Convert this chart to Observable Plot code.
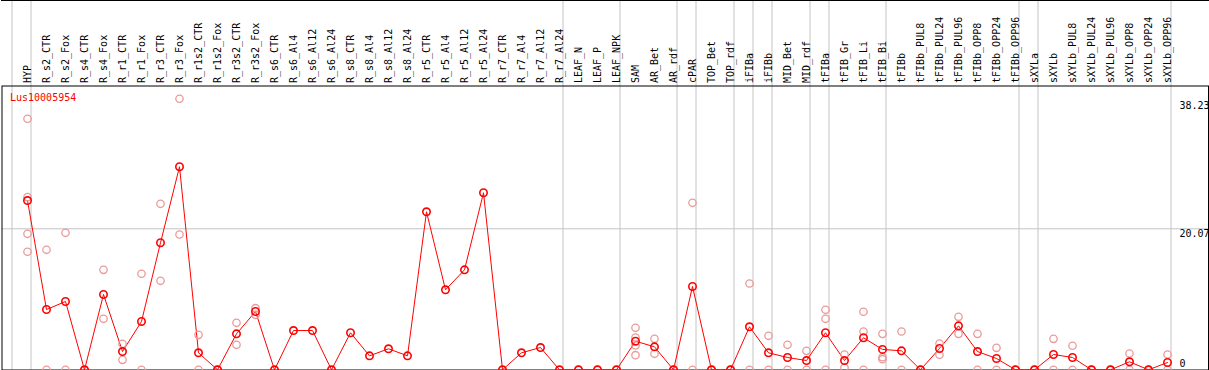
<!DOCTYPE html>
<html>
<head>
<meta charset="utf-8">
<script src="https://cdn.jsdelivr.net/npm/d3@7"></script>
<script src="https://cdn.jsdelivr.net/npm/@observablehq/plot@0.6"></script>
<style>
  body { margin: 0; background: #fff; }
  #chart { position: relative; width: 1209px; height: 370px; }
  #chart svg { display: block; }
  #topline { position: absolute; left: 1px; top: 0; width: 1208px; height: 1px; background: #000; }
</style>
</head>
<body>
<div id="chart"><div id="topline"></div></div>
<script>
const geneId = "Lus10005954";

const samples = [
  "HYP",
  "R_s2_CTR","R_s2_Fox","R_s4_CTR","R_s4_Fox","R_r1_CTR","R_r1_Fox","R_r3_CTR","R_r3_Fox",
  "R_r1s2_CTR","R_r1s2_Fox","R_r3s2_CTR","R_r3s2_Fox",
  "R_s6_CTR","R_s6_Al4","R_s6_Al12","R_s6_Al24","R_s8_CTR","R_s8_Al4","R_s8_Al12","R_s8_Al24",
  "R_r5_CTR","R_r5_Al4","R_r5_Al12","R_r5_Al24","R_r7_CTR","R_r7_Al4","R_r7_Al12","R_r7_Al24",
  "LEAF_N","LEAF_P","LEAF_NPK",
  "SAM","AR_Bet","AR_rdf",
  "cPAR",
  "TOP_Bet","TOP_rdf",
  "iFIBa",
  "iFIBb",
  "MID_Bet","MID_rdf",
  "tFIBa",
  "tFIB_Gr","tFIB_Li","tFIB_Bi",
  "tFIBb","tFIBb_PUL8","tFIBb_PUL24","tFIBb_PUL96","tFIBb_OPP8","tFIBb_OPP24","tFIBb_OPP96",
  "sXYLa",
  "sXYLb","sXYLb_PUL8","sXYLb_PUL24","sXYLb_PUL96","sXYLb_OPP8","sXYLb_OPP24","sXYLb_OPP96"
];

const meanValues = [
  24.09,
  8.58, 9.72, 0, 10.72, 2.6, 6.88, 18.08, 28.9,
  2.42, 0, 5.12, 8.3,
  0, 5.59, 5.59, 0, 5.27, 1.99, 2.99, 1.99,
  22.49, 11.39, 14.23, 25.2, 0, 2.42, 3.17, 0,
  0, 0, 0,
  4.07, 3.27, 0,
  11.86,
  0, 0,
  6.12,
  2.42,
  1.75, 1.32,
  5.27,
  1.32, 4.56, 2.9,
  2.7, 0, 3.03, 6.26, 2.6, 1.61, 0,
  0,
  2.18, 1.75, 0, 0, 1.14, 0, 1.04
];

const replicateValues = [
  [35.73, 24.57, 19.36, 16.8],
  [17.08, 0], [19.5, 0], [0, 0], [14.23, 7.26], [3.7, 1.42], [13.67, 0], [23.63, 12.67], [38.58, 19.26],
  [4.98, 0], [0, 0], [6.69, 3.56], [8.77, 7.83],
  [], [], [], [], [], [], [], [],
  [], [], [], [], [], [], [], [],
  [0], [0], [0],
  [5.98, 4.6, 3.46, 2.08], [4.41, 2.28], [0, 0],
  [23.77, 0],
  [0, 0], [0, 0],
  [12.28, 0],
  [4.84, 0],
  [3.56, 0], [2.7, 0],
  [8.54, 7.26, 0],
  [2.18, 0.3], [8.26, 5.45, 0], [5.12, 1.79, 1.51],
  [5.45, 0], [0, 0], [3.74, 2.14], [7.54, 5.12], [5.12, 0], [3.13, 0], [0, 0],
  [0, 0],
  [4.41, 0], [3.42, 0], [0, 0], [0, 0], [2.32, 0], [0, 0], [2.18, 0]
];

const groupStarts = ["HYP","R_s2_CTR","LEAF_N","SAM","cPAR","TOP_Bet","iFIBa","iFIBb","MID_Bet","tFIBa","tFIB_Gr","tFIBb","sXYLa","sXYLb"];
const groupEnd = ["sXYLb_OPP96"];

const yTicks = [0, 20.07, 38.23];

const means = samples.map((s, i) => ({sample: s, value: meanValues[i]}));
const reps = samples.flatMap((s, i) => replicateValues[i].map(v => ({sample: s, value: v})));
const fmt = d => d === 0 ? "0" : d.toFixed(2);

const chart = Plot.plot({
  width: 1209,
  height: 370,
  marginTop: 85.5,
  marginLeft: 1.5,
  marginRight: 1,
  marginBottom: 0.5,
  style: {background: "white", fontFamily: "'DejaVu Sans Mono', monospace", fontSize: "10px", color: "black"},
  x: {type: "point", domain: samples, range: [26.7, 1166.7], padding: 0, axis: null},
  y: {domain: [0, 38.23], range: [369.3, 100.7], axis: null},
  marks: [
    Plot.ruleY([yTicks[1]], {stroke: "#c4c4c4", strokeWidth: 1}),
    Plot.ruleX(groupStarts, {x: d => d, dx: -15.5, stroke: "#c4c4c4", insetTop: -86}),
    Plot.ruleX(groupEnd, {x: d => d, dx: 3.5, stroke: "#c4c4c4", insetTop: -86}),
    Plot.axisX({anchor: "top", label: null, tickSize: 0, tickPadding: 3, tickRotate: -90, fill: "black", fontSize: 10}),
    Plot.frame({stroke: "black"}),
    Plot.line(means, {x: "sample", y: "value", stroke: "red", strokeWidth: 1}),
    Plot.dot(reps, {x: "sample", y: "value", r: 3.7, stroke: "#eb9a9a", strokeWidth: 1.3, fill: "none"}),
    Plot.dot(means, {x: "sample", y: "value", r: 3.7, stroke: "red", strokeWidth: 1.6, fill: "none"}),
    Plot.text([geneId], {frameAnchor: "top-left", dx: 8, dy: 12, textAnchor: "start", lineAnchor: "middle", fill: "red", fontSize: 10}),
    Plot.text(yTicks.filter(d => d > 0), {y: d => d, text: fmt, frameAnchor: "right", dx: -29, textAnchor: "start", lineAnchor: "top", dy: 1, fill: "black"}),
    Plot.text(yTicks.filter(d => d === 0), {y: d => d, text: fmt, frameAnchor: "right", dx: -29, textAnchor: "start", lineAnchor: "bottom", dy: -3, fill: "black"})
  ]
});
document.getElementById("chart").appendChild(chart);
</script>
</body>
</html>
